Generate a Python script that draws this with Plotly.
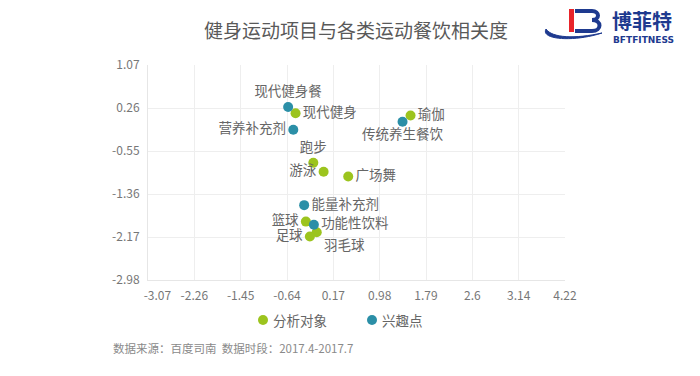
import plotly.graph_objects as go

# ---- data ----
subj_names = ["现代健身", "瑜伽", "跑步", "游泳", "广场舞", "篮球", "羽毛球", "足球"]
subj_x = [-0.49, 1.52, -0.18, 0.00, 0.43, -0.31, -0.12, -0.24]
subj_y = [0.16, 0.12, -0.77, -0.94, -1.03, -1.88, -2.08, -2.16]
subj_pos = ["middle right", "middle right", "top center", "middle left", "middle right",
            "middle left", "bottom right", "middle left"]

int_names = ["现代健身餐", "营养补充剂", "传统养生餐饮", "能量补充剂", "功能性饮料"]
int_x = [-0.62, -0.53, 1.38, -0.34, -0.17]
int_y = [0.28, -0.15, 0.00, -1.57, -1.94]
int_pos = ["top center", "middle left", "bottom center", "middle right", "middle right"]

x_ticks = [-3.07, -2.26, -1.45, -0.64, 0.17, 0.98, 1.79, 2.60, 3.41, 4.22]
x_tick_text = ["-3.07", "-2.26", "-1.45", "-0.64", "0.17", "0.98", "1.79", "2.6", "3.14", "4.22"]
y_ticks = [1.07, 0.26, -0.55, -1.36, -2.17, -2.98]
y_tick_text = ["1.07", "0.26", "-0.55", "-1.36", "-2.17", "-2.98"]

series_names = ["分析对象", "兴趣点"]

GREEN = "#9cc41e"
BLUE = "#2b8fa7"
FONT = "Noto Sans CJK SC"

W, H = 700, 376
L, R, T, B = 148, 565, 65, 280


def px(x):
    return (x - L) / (R - L)


def py(y):
    return (B - y) / (B - T)


# first x tick label sits to the right of the axis start in the reference
x_tick_disp = ["\u00a0" * 7 + x_tick_text[0]] + x_tick_text[1:]

fig = go.Figure()
fig.add_trace(go.Scatter(
    x=subj_x, y=subj_y, mode="markers+text", name=series_names[0],
    text=subj_names, textposition=subj_pos,
    marker=dict(color=GREEN, size=10),
    textfont=dict(size=13.5, color="#666666", family=FONT),
    cliponaxis=False, showlegend=False,
))
fig.add_trace(go.Scatter(
    x=int_x, y=int_y, mode="markers+text", name=series_names[1],
    text=int_names, textposition=int_pos,
    marker=dict(color=BLUE, size=10),
    textfont=dict(size=13.5, color="#666666", family=FONT),
    cliponaxis=False, showlegend=False,
))

shapes = []
# logo: red bar
shapes.append(dict(type="rect", xref="paper", yref="paper",
                   x0=px(569), x1=px(574), y0=py(32), y1=py(9),
                   fillcolor="#e8242a", line=dict(width=0)))
# logo: blue B outline
bpath = (f"M {px(575)},{py(11)} L {px(592)},{py(11)} "
         f"C {px(600)},{py(11)} {px(600)},{py(20)} {px(592)},{py(20)} "
         f"C {px(602)},{py(20)} {px(602)},{py(31)} {px(592)},{py(31)} "
         f"L {px(575)},{py(31)}")
shapes.append(dict(type="path", xref="paper", yref="paper", path=bpath,
                   line=dict(color="#1e3a8f", width=4)))
# logo swoosh
swoosh = (f"M {px(546)},{py(29)} "
          f"C {px(540)},{py(40)} {px(575)},{py(42)} {px(602)},{py(33)} "
          f"C {px(575)},{py(39)} {px(552)},{py(38)} {px(546)},{py(29)} Z")
shapes.append(dict(type="path", xref="paper", yref="paper", path=swoosh,
                   fillcolor="#1e3a8f", line=dict(color="#1e3a8f", width=1)))

# manual legend markers
for cx, col in [(263, GREEN), (372, BLUE)]:
    shapes.append(dict(type="circle", xref="paper", yref="paper",
                       x0=px(cx - 5), x1=px(cx + 5), y0=py(320 + 5), y1=py(320 - 5),
                       fillcolor=col, line=dict(width=0)))

annotations = [
    dict(text="健身运动项目与各类运动餐饮相关度", xref="paper", yref="paper",
         x=px(356), y=py(29), xanchor="center", yanchor="middle", showarrow=False,
         font=dict(size=19, color="#595959", family=FONT)),
    dict(text="<b>博菲特</b>", xref="paper", yref="paper",
         x=px(610), y=py(21), xanchor="left", yanchor="middle", showarrow=False,
         font=dict(size=20, color="#1e3a8f", family=FONT)),
    dict(text="<b>BFTFITNESS</b>", xref="paper", yref="paper",
         x=px(611), y=py(40), xanchor="left", yanchor="middle", showarrow=False,
         font=dict(size=9, color="#1e3a8f", family="DejaVu Sans")),
    dict(text=series_names[0], xref="paper", yref="paper",
         x=px(271), y=py(320), xanchor="left", yanchor="middle", showarrow=False,
         font=dict(size=13.5, color="#666666", family=FONT)),
    dict(text=series_names[1], xref="paper", yref="paper",
         x=px(380), y=py(320), xanchor="left", yanchor="middle", showarrow=False,
         font=dict(size=13.5, color="#666666", family=FONT)),
    dict(text="数据来源：百度司南  数据时段：2017.4-2017.7", xref="paper", yref="paper",
         x=px(111), y=py(348), xanchor="left", yanchor="middle", showarrow=False,
         font=dict(size=11.5, color="#8a8a8a", family=FONT)),
]

fig.update_layout(
    width=W, height=H,
    margin=dict(l=L, r=W - R, t=T, b=H - B, pad=0),
    paper_bgcolor="white", plot_bgcolor="white",
    font=dict(family=FONT, color="#777777", size=12),
    xaxis=dict(range=[x_ticks[0], x_ticks[-1]], tickvals=x_ticks, ticktext=x_tick_disp,
               showgrid=True, gridcolor="#eeeeee", zeroline=False,
               showline=True, linecolor="#e6e6e6", ticks="", ticklabelstandoff=5,
               tickfont=dict(size=12, color="#777777")),
    yaxis=dict(range=[y_ticks[-1], y_ticks[0]], tickvals=y_ticks, ticktext=y_tick_text,
               showgrid=True, gridcolor="#eeeeee", zeroline=False,
               showline=True, linecolor="#e6e6e6", ticks="", ticklabelstandoff=5,
               tickfont=dict(size=12, color="#777777")),
    showlegend=False,
    shapes=shapes,
    annotations=annotations,
)

fig.write_html("out.html", config={"displayModeBar": False},
               post_script="document.body.style.margin='0';")
